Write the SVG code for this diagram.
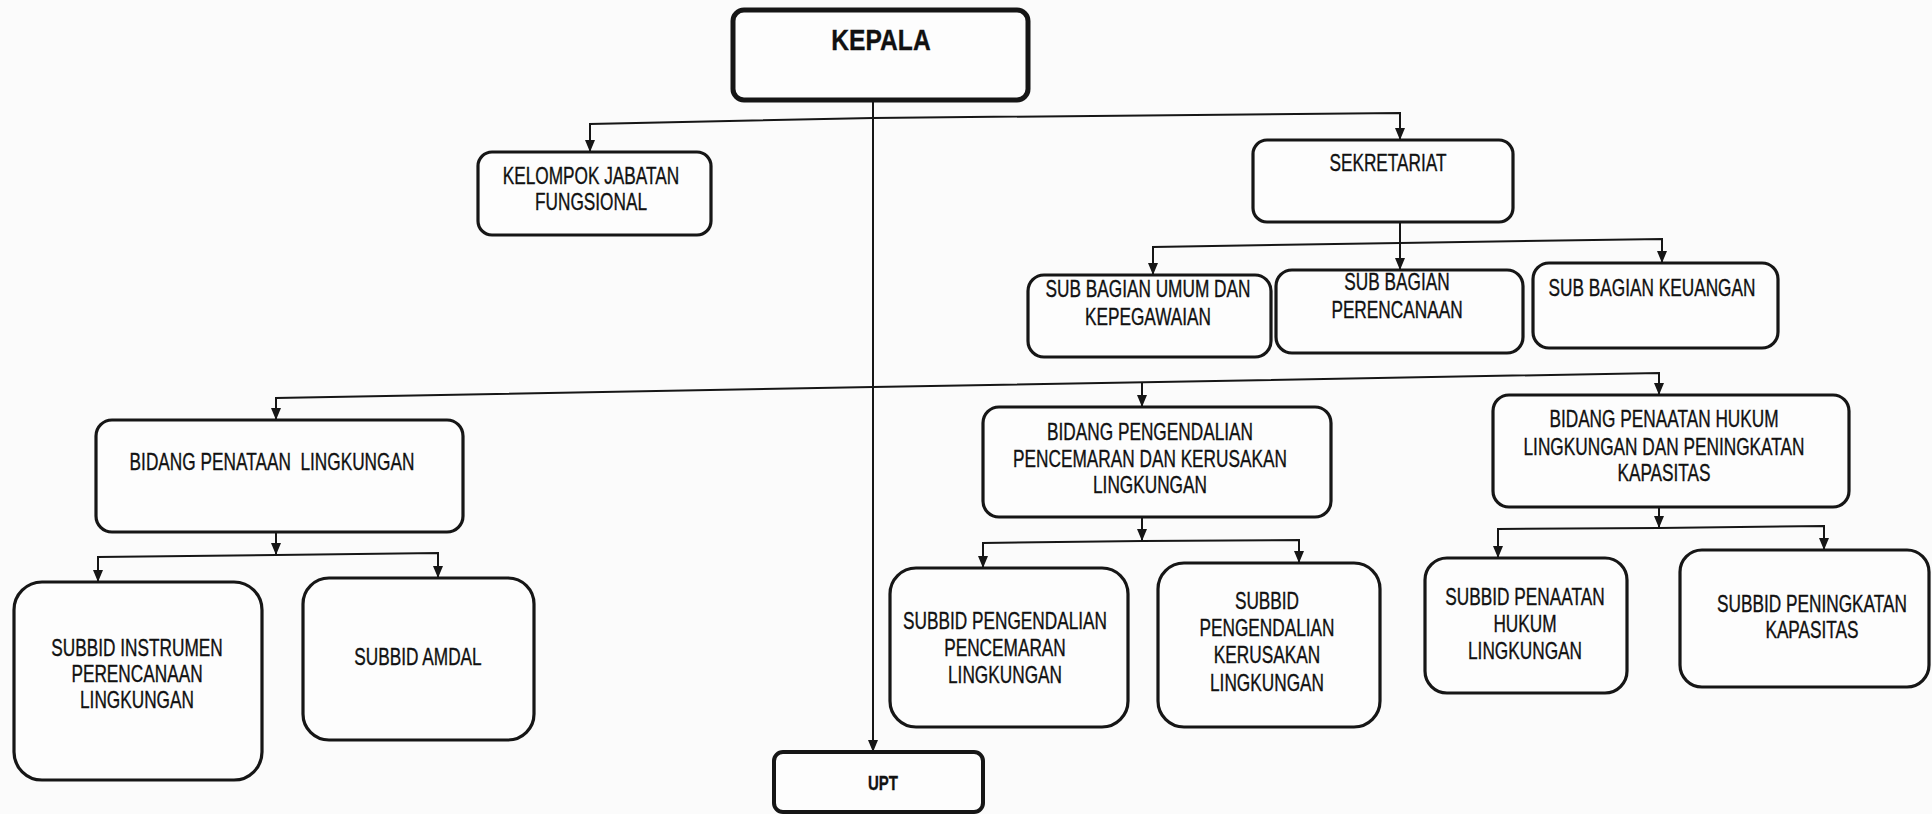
<svg xmlns="http://www.w3.org/2000/svg" width="1932" height="814" viewBox="0 0 1932 814">
<style>
  .bg { fill: #fbfbfb; }
  .box { fill: #fdfdfd; stroke: #161616; stroke-width: 3.2; }
  .thick { stroke-width: 5; }
  .mid { stroke-width: 4; }
  .t { font-family: "Liberation Sans", Arial, sans-serif; font-size: 23px; fill: #111; stroke: #111; stroke-width: 0.35; text-anchor: middle; transform-box: fill-box; transform-origin: center; transform: scaleX(0.75); }
  .b { font-weight: bold; }
  .conn path { fill: none; stroke: #161616; stroke-width: 2; }
</style>
<defs>
  <marker id="arr" viewBox="0 0 12 10" refX="12" refY="5" markerWidth="12" markerHeight="10" orient="auto" markerUnits="userSpaceOnUse">
    <path d="M0,0 L12,5 L0,10 z" fill="#161616"/>
  </marker>
</defs>
<rect class="bg" x="0" y="0" width="1932" height="814"/>

<g id="connectors" class="conn">
  <path d="M873,99 L873,752" marker-end="url(#arr)"/>
  <path d="M873,118 L590,124 L590,152" marker-end="url(#arr)"/>
  <path d="M873,118 L1400,113 L1400,140" marker-end="url(#arr)"/>
  <path d="M1400,222 L1400,270" marker-end="url(#arr)"/>
  <path d="M1400,243 L1153,247 L1153,275" marker-end="url(#arr)"/>
  <path d="M1400,243 L1662,239 L1662,263" marker-end="url(#arr)"/>
  <path d="M873,387 L276,398 L276,420" marker-end="url(#arr)"/>
  <path d="M873,387 L1659,373 L1659,395" marker-end="url(#arr)"/>
  <path d="M1142,382 L1142,407" marker-end="url(#arr)"/>
  <path d="M276,532 L276,555" marker-end="url(#arr)"/>
  <path d="M276,555 L98,557 L98,582" marker-end="url(#arr)"/>
  <path d="M276,555 L438,553 L438,578" marker-end="url(#arr)"/>
  <path d="M1142,517 L1142,541" marker-end="url(#arr)"/>
  <path d="M1142,541 L983,543 L983,568" marker-end="url(#arr)"/>
  <path d="M1142,541 L1299,540 L1299,563" marker-end="url(#arr)"/>
  <path d="M1659,507 L1659,528" marker-end="url(#arr)"/>
  <path d="M1659,528 L1498,529 L1498,558" marker-end="url(#arr)"/>
  <path d="M1659,528 L1824,526 L1824,550" marker-end="url(#arr)"/>
</g>

<g id="kepala">
  <rect class="box thick" x="733" y="10" width="295" height="90" rx="11"/>
  <text class="t b" x="881" y="50" style="font-size:30px;transform:scaleX(0.82)">KEPALA</text>
</g>
<g id="kelompok">
  <rect class="box" x="478" y="152" width="233" height="83" rx="14"/>
  <text class="t" x="591" y="184"><tspan x="591">KELOMPOK JABATAN</tspan><tspan x="591" dy="26">FUNGSIONAL</tspan></text>
</g>
<g id="sekretariat">
  <rect class="box" x="1253" y="140" width="260" height="82" rx="14"/>
  <text class="t" x="1388" y="171">SEKRETARIAT</text>
</g>
<g id="sub-umum">
  <rect class="box" x="1028" y="275" width="243" height="82" rx="16"/>
  <text class="t" x="1148" y="297"><tspan x="1148">SUB BAGIAN UMUM DAN</tspan><tspan x="1148" dy="28">KEPEGAWAIAN</tspan></text>
</g>
<g id="sub-perencanaan">
  <rect class="box" x="1276" y="270" width="247" height="83" rx="16"/>
  <text class="t" x="1397" y="290"><tspan x="1397">SUB BAGIAN</tspan><tspan x="1397" dy="28">PERENCANAAN</tspan></text>
</g>
<g id="sub-keuangan">
  <rect class="box" x="1533" y="263" width="245" height="85" rx="16"/>
  <text class="t" x="1652" y="296">SUB BAGIAN KEUANGAN</text>
</g>
<g id="bidang-penataan">
  <rect class="box" x="96" y="420" width="367" height="112" rx="16"/>
  <text class="t" x="272" y="470" xml:space="preserve">BIDANG PENATAAN  LINGKUNGAN</text>
</g>
<g id="bidang-pengendalian">
  <rect class="box" x="983" y="407" width="348" height="110" rx="16"/>
  <text class="t" x="1150" y="440"><tspan x="1150">BIDANG PENGENDALIAN</tspan><tspan x="1150" dy="27">PENCEMARAN DAN KERUSAKAN</tspan><tspan x="1150" dy="26">LINGKUNGAN</tspan></text>
</g>
<g id="bidang-penaatan">
  <rect class="box" x="1493" y="395" width="356" height="112" rx="16"/>
  <text class="t" x="1664" y="427"><tspan x="1664">BIDANG PENAATAN HUKUM</tspan><tspan x="1664" dy="28">LINGKUNGAN DAN PENINGKATAN</tspan><tspan x="1664" dy="26">KAPASITAS</tspan></text>
</g>
<g id="subbid-instrumen">
  <rect class="box" x="14" y="582" width="248" height="198" rx="28"/>
  <text class="t" x="137" y="656"><tspan x="137">SUBBID INSTRUMEN</tspan><tspan x="137" dy="26">PERENCANAAN</tspan><tspan x="137" dy="26">LINGKUNGAN</tspan></text>
</g>
<g id="subbid-amdal">
  <rect class="box" x="303" y="578" width="231" height="162" rx="26"/>
  <text class="t" x="418" y="665">SUBBID AMDAL</text>
</g>
<g id="subbid-pencemaran">
  <rect class="box" x="890" y="568" width="238" height="159" rx="26"/>
  <text class="t" x="1005" y="629"><tspan x="1005">SUBBID PENGENDALIAN</tspan><tspan x="1005" dy="27">PENCEMARAN</tspan><tspan x="1005" dy="27">LINGKUNGAN</tspan></text>
</g>
<g id="subbid-kerusakan">
  <rect class="box" x="1158" y="563" width="222" height="164" rx="26"/>
  <text class="t" x="1267" y="609"><tspan x="1267">SUBBID</tspan><tspan x="1267" dy="27">PENGENDALIAN</tspan><tspan x="1267" dy="27">KERUSAKAN</tspan><tspan x="1267" dy="28">LINGKUNGAN</tspan></text>
</g>
<g id="subbid-penaatan">
  <rect class="box" x="1425" y="558" width="202" height="135" rx="22"/>
  <text class="t" x="1525" y="605"><tspan x="1525">SUBBID PENAATAN</tspan><tspan x="1525" dy="27">HUKUM</tspan><tspan x="1525" dy="27">LINGKUNGAN</tspan></text>
</g>
<g id="subbid-peningkatan">
  <rect class="box" x="1680" y="550" width="249" height="137" rx="22"/>
  <text class="t" x="1812" y="612"><tspan x="1812">SUBBID PENINGKATAN</tspan><tspan x="1812" dy="26">KAPASITAS</tspan></text>
</g>
<g id="upt">
  <rect class="box mid" x="774" y="752" width="209" height="60" rx="9"/>
  <text class="t b" x="883" y="790" style="font-size:20px">UPT</text>
</g>
</svg>
